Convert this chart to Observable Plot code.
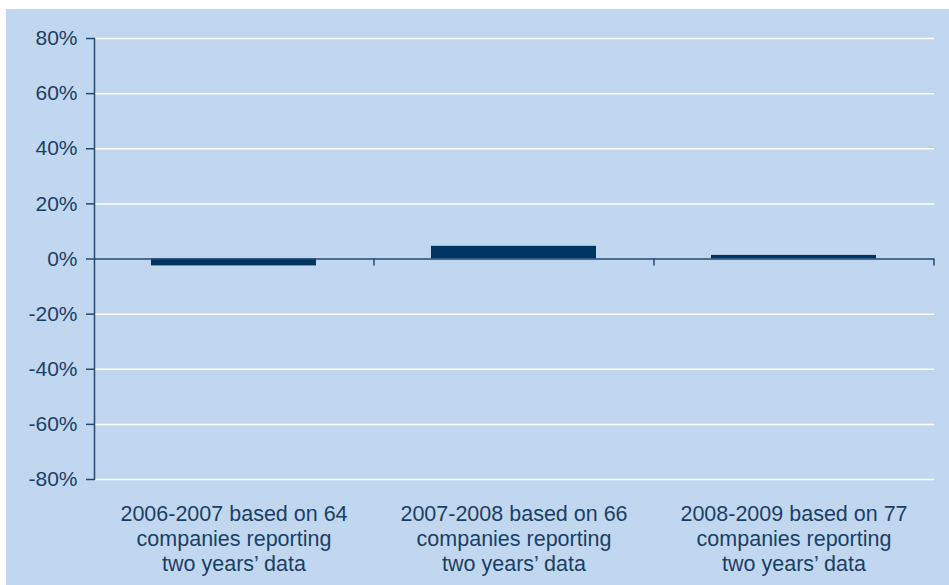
<!DOCTYPE html>
<html><head><meta charset="utf-8">
<script src="https://cdn.jsdelivr.net/npm/d3@7"></script>
<script src="https://cdn.jsdelivr.net/npm/@observablehq/plot@0.6"></script>
<style>
body{margin:0;background:#fff;}
#chart{padding:9px 0 0 6px;}
#chart svg{display:block;}
</style></head><body><div id="chart"></div>
<script>
const categories = ["2006-2007", "2007-2008", "2008-2009"];
const categoryLabels = [
  "2006-2007 based on 64\ncompanies reporting\ntwo years’ data",
  "2007-2008 based on 66\ncompanies reporting\ntwo years’ data",
  "2008-2009 based on 77\ncompanies reporting\ntwo years’ data"
];
const values = [-2.5, 4.6, 1.3];
const yTicks = [-80, -60, -40, -20, 0, 20, 40, 60, 80];

const data = categories.map((c, i) => ({category: c, value: values[i]}));
const axisColor = "#1f4a74";
const textColor = "#1a3f66";

const plot = Plot.plot({
  width: 943, height: 576,
  marginLeft: 88, marginRight: 15, marginTop: 29, marginBottom: 106,
  style: {background: "#c1d7f0", fontFamily: "'Liberation Sans', Arial, sans-serif", color: textColor},
  x: {domain: categories, paddingInner: 0.41, paddingOuter: 0.205, axis: null},
  y: {domain: [-80, 80], axis: null},
  marks: [
    Plot.gridY(yTicks.filter(d => d !== 0), {stroke: "#ffffff", strokeOpacity: 1, strokeWidth: 1.5}),
    Plot.barY(data, {x: "category", y: "value", fill: "#003562"}),
    Plot.ruleY([0], {stroke: axisColor, strokeWidth: 1.5}),
    Plot.ruleX(categories, {x: d => d, y1: 0, y2: 0, dx: 140, insetBottom: -7, stroke: axisColor, strokeWidth: 1.5}),
    Plot.frame({anchor: "left", stroke: axisColor, strokeWidth: 1.5}),
    Plot.axisY({ticks: yTicks, tickSize: 8, tickPadding: 9, tickFormat: d => d + "%", fontSize: 21, stroke: axisColor, strokeWidth: 1.5, fill: textColor, label: null}),
    Plot.axisX({tickSize: 0, tickPadding: 24, fontSize: 21.5, lineHeight: 1.16, tickFormat: (d, i) => categoryLabels[i], fill: textColor, label: null})
  ]
});
document.getElementById("chart").appendChild(plot);
</script></body></html>
